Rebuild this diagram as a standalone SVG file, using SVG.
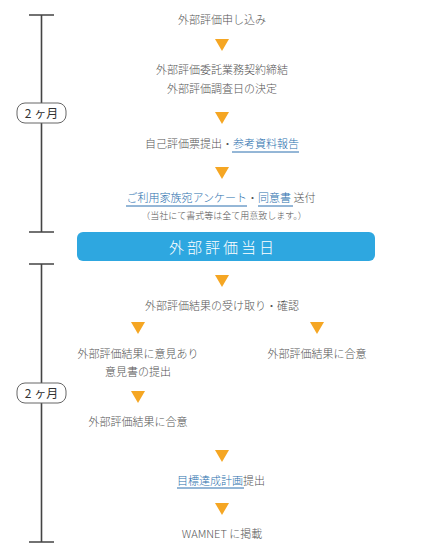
<svg xmlns="http://www.w3.org/2000/svg" width="428" height="553" viewBox="0 0 428 553">
<style>
.t{font-family:"Noto Sans CJK JP","Noto Sans",sans-serif;font-size:11px;font-weight:300;fill:#555;text-anchor:middle}
.s{font-size:9px}
.lk{fill:#2a6fae}
.ul{stroke:#2a6fae;stroke-width:1}
.tl{stroke:#444;stroke-width:1.6;fill:none}
.pill{fill:#fff;stroke:#666;stroke-width:1}
.pt{font-family:"Noto Sans CJK JP","Noto Sans",sans-serif;font-size:12px;fill:#333;text-anchor:middle}
.tri{fill:#f5a623}
</style>
<defs>
<path id="tri" class="tri" d="M-7,0 H7 L0,12 Z"/>
</defs>
<g id="timeline">
<path class="tl" d="M29,15 H54 M41.5,15 V232 M29,232 H54"/>
<path class="tl" d="M29,264 H54 M41.5,264 V542 M29,542 H54"/>
<g id="period1"><rect class="pill" x="17" y="103" width="49" height="20" rx="8"/><text class="pt" x="41.5" y="117.5">2 ヶ月</text></g>
<g id="period2"><rect class="pill" x="17" y="383" width="49" height="20" rx="8"/><text class="pt" x="41.5" y="397.5">2 ヶ月</text></g>
</g>
<g id="connectors">
<use href="#tri" x="222" y="39"/>
<use href="#tri" x="222" y="112"/>
<use href="#tri" x="222" y="167"/>
<use href="#tri" x="222" y="275"/>
<use href="#tri" x="138" y="322"/>
<use href="#tri" x="317" y="322"/>
<use href="#tri" x="138" y="391"/>
<use href="#tri" x="222" y="450"/>
<use href="#tri" x="222" y="503"/>
</g>
<g id="n1"><text class="t" x="222" y="24">外部評価申し込み</text></g>
<g id="n2"><text class="t" x="222" y="74">外部評価委託業務契約締結</text><text class="t" x="222" y="93">外部評価調査日の決定</text></g>
<g id="n3"><text class="t" x="222" y="148">自己評価票提出・<tspan class="lk">参考資料報告</tspan></text><line class="ul" x1="232" y1="152" x2="299" y2="152"/></g>
<g id="n4"><text class="t" x="221" y="202"><tspan class="lk">ご利用家族宛アンケート</tspan>・<tspan class="lk">同意書</tspan> 送付</text>
<line class="ul" x1="126" y1="206" x2="247" y2="206"/><line class="ul" x1="258" y1="206" x2="293" y2="206"/>
<text class="t s" x="224" y="218.5">（当社にて書式等は全て用意致します。）</text></g>
<g id="n5"><rect x="77" y="232" width="298" height="29" rx="6" fill="#2ea7e0"/><text x="223" y="252.5" font-family="'Noto Sans CJK JP',sans-serif" font-size="15" font-weight="300" fill="#fff" text-anchor="middle" letter-spacing="3">外部評価当日</text></g>
<g id="n6"><text class="t" x="222" y="310">外部評価結果の受け取り・確認</text></g>
<g id="n7"><text class="t" x="138" y="358">外部評価結果に意見あり</text><text class="t" x="138" y="376">意見書の提出</text></g>
<g id="n8"><text class="t" x="317" y="358">外部評価結果に合意</text></g>
<g id="n9"><text class="t" x="138" y="426">外部評価結果に合意</text></g>
<g id="n10"><text class="t" x="221" y="485"><tspan class="lk">目標達成計画</tspan>提出</text><line class="ul" x1="177" y1="488" x2="244" y2="488"/></g>
<g id="n11"><text class="t" x="222" y="538">WAMNET に掲載</text></g>
</svg>
